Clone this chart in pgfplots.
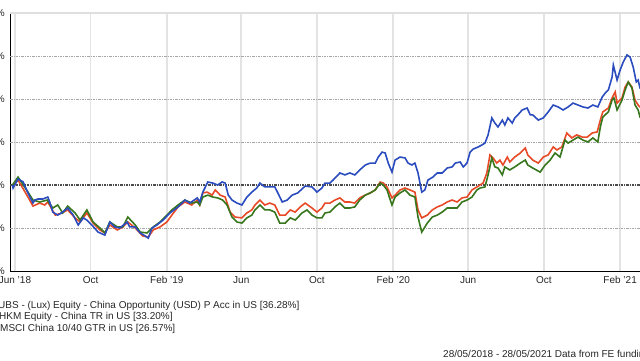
\documentclass[border=0pt]{standalone}
\usepackage{fontspec}
\setmainfont{Liberation Sans}
\usepackage{pgfplots}
\pgfplotsset{compat=1.18}
\definecolor{ubsblue}{HTML}{2B4CBE}
\definecolor{hkmred}{HTML}{E84A27}
\definecolor{msgreen}{HTML}{38761D}
\begin{document}
\begin{tikzpicture}
\begin{axis}[
  at={(0pt,0pt)}, anchor=south west,
  scale only axis, width=630pt, height=258pt,
  xmin=-8, xmax=1008, ymin=-40, ymax=80,
  axis x line*=bottom, axis y line*=left,
  axis line style={-, black, line width=1pt},
  xtick={0,122,245,365,487,610,731,853,976},
  xticklabels={Jun '18, Oct, Feb '19, Jun, Oct, Feb '20, Jun, Oct, Feb '21},
  ytick={-40,-20,0,20,40,60,80},
  yticklabel={\pgfmathprintnumber{\tick}\%},
  /pgf/number format/assume math mode=true,
  major tick length=0pt,
  xmajorgrids,
  x grid style={gray!22, line width=1.6pt},
  ticklabel style={font=\fontsize{10}{12}\selectfont, text=black!85},
  xticklabel style={anchor=base, inner sep=0pt, yshift=-12.5pt},
  yticklabel style={anchor=east, inner sep=0pt, xshift=-5pt},
]
\pgfplotsinvokeforeach{-20,20,40,60}{
  \draw[black!35, dash pattern=on 2.5pt off 1pt on 1pt off 1pt, line width=0.8pt] (axis cs:-8,#1) -- (axis cs:1008,#1);
}
\draw[black!70, dash pattern=on 2.5pt off 1pt on 1pt off 1pt, line width=1.1pt] (axis cs:-8,0) -- (axis cs:1008,0);
\addplot[hkmred, line width=1.6pt] coordinates {
(-4,-0.5) (5,2.3) (21,-5.6) (29,-9.8) (40,-8.4) (48,-9.3) (53,-7.9) (65,-14.0) (76,-13.0) (85,-11.6)
(97,-15.3) (105,-17.2) (116,-13.0) (126,-17.7) (137,-20.9) (145,-22.3) (153,-18.6) (165,-20.9) (174,-19.5)
(182,-17.2) (194,-20.0) (206,-23.7) (215,-24.2) (223,-20.9) (234,-19.5) (245,-17.2) (253,-14.0) (263,-10.2)
(274,-7.9) (285,-9.3) (294,-7.0) (298,-9.3) (303,-3.7) (310,-3.3) (318,-4.7) (323,-2.3) (331,-4.7) (339,-5.6)
(347,-12.6) (355,-14.9) (366,-15.3) (374,-13.0) (382,-11.6) (387,-9.3) (395,-7.0) (403,-9.3) (411,-8.4)
(419,-9.3) (427,-14.0) (436,-14.0) (444,-11.6) (452,-12.6) (460,-10.2) (468,-8.4) (479,-10.7) (487,-12.6)
(495,-10.7) (500,-8.4) (508,-8.4) (516,-7.0) (524,-6.0) (532,-7.9) (540,-7.9) (548,-8.4) (556,-6.0)
(565,-4.7) (573,-3.7) (581,-2.3) (589,1.4) (594,0.9) (600,-0.9) (608,-6.0) (613,-4.7) (621,-2.3) (629,-1.4)
(637,-2.3) (645,-3.3) (650,-11.6) (656,-15.3) (665,-14.0) (673,-11.6) (681,-10.2) (689,-9.3) (697,-7.9)
(705,-7.0) (713,-7.9) (721,-6.0) (729,-5.6) (737,-2.3) (745,-0.9) (750,0) (755,0.9) (761,5.6) (766,14.0)
(771,12.6) (777,10.2) (782,11.6) (787,9.3) (794,13.0) (798,10.7) (806,13.0) (815,14.9) (823,17.2) (827,14.0)
(835,11.6) (844,10.2) (852,13.0) (860,14.0) (868,17.7) (874,16.3) (882,17.7) (890,24.2) (898,21.9) (906,23.3)
(915,22.3) (923,22.3) (931,24.2) (939,24.7) (944,30.2) (948,34.0) (957,35.8) (963,40.5) (968,43.3) (971,38.1)
(979,40.5) (984,45.6) (989,47.9) (995,45.6) (1000,39.5) (1005,37.2) (1008,36.3) (1092,33.20)
};
\addplot[msgreen, line width=1.6pt] coordinates {
(-4,0) (5,3.7) (21,-3.3) (29,-7.0) (40,-7.9) (52,-7.0) (61,-10.7) (69,-9.3) (77,-13.0) (85,-9.8) (97,-13.0)
(105,-16.3) (116,-11.6) (126,-17.2) (137,-20.0) (145,-22.3) (153,-17.2) (165,-19.5) (174,-19.5) (182,-14.9)
(194,-18.6) (202,-21.9) (213,-22.3) (223,-19.5) (234,-17.2) (245,-14.0) (253,-11.6) (263,-9.3) (274,-7.0)
(285,-8.4) (294,-7.9) (298,-9.3) (303,-5.6) (311,-4.7) (319,-5.6) (327,-6.0) (335,-7.0) (342,-9.3) (350,-14.9)
(358,-17.2) (366,-17.7) (374,-15.3) (382,-14.0) (387,-11.6) (395,-9.3) (403,-11.6) (411,-11.6) (419,-12.6)
(427,-17.7) (436,-17.7) (444,-15.3) (452,-16.3) (463,-13.0) (471,-11.6) (479,-14.0) (487,-15.3) (495,-15.3)
(500,-13.0) (508,-12.6) (516,-10.2) (524,-8.4) (532,-10.7) (540,-10.7) (548,-10.2) (556,-7.0) (565,-4.7)
(573,-3.7) (581,-2.3) (589,0.9) (594,0) (600,-2.3) (608,-9.3) (613,-5.6) (621,-3.7) (629,-2.3) (637,-4.7)
(645,-5.6) (650,-14.9) (656,-21.9) (665,-17.7) (673,-14.9) (681,-14.0) (689,-12.6) (697,-10.7) (705,-10.7)
(713,-10.7) (721,-7.9) (729,-7.0) (737,-5.6) (745,-2.3) (750,-1.4) (758,-0.9) (763,4.7) (769,12.6) (774,8.4)
(779,7.9) (786,4.7) (790,8.4) (798,7.0) (806,8.4) (815,10.2) (823,11.6) (827,9.3) (835,7.9) (847,6.0) (855,9.3)
(863,11.6) (871,14.9) (879,13.0) (887,20.9) (892,19.5) (900,20.9) (908,22.3) (916,20.9) (924,20.0) (932,21.9)
(940,20.0) (944,27.0) (948,31.6) (957,34.0) (963,39.5) (966,40.5) (971,34.9) (979,39.5) (984,44.2) (989,47.9)
(995,45.1) (1000,37.2) (1005,34.9) (1008,31.6) (1092,26.57)
};
\addplot[ubsblue, line width=1.6pt] coordinates {
(-4,0) (-3,-1.4) (5,2.8) (13,1.5) (21,-3.7) (29,-8.4) (32,-7.0) (37,-6.5) (45,-6.5) (53,-5.6) (56,-7.9)
(61,-12.6) (69,-14.0) (77,-12.6) (85,-10.7) (94,-14.0) (102,-18.6) (110,-15.3) (116,-16.3) (124,-18.6)
(134,-21.9) (145,-23.3) (153,-17.2) (161,-19.5) (169,-20.0) (181,-17.2) (185,-19.5) (194,-19.5) (202,-22.3)
(210,-23.7) (215,-24.7) (221,-20.0) (229,-18.6) (239,-16.3) (250,-13.0) (263,-10.2) (274,-7.0) (282,-8.4)
(294,-6.0) (298,-7.9) (303,-3.3) (311,1.4) (319,0.9) (327,0) (334,1.4) (339,0.9) (344,-4.7) (350,-7.0)
(358,-8.4) (366,-9.3) (374,-5.6) (382,-3.3) (390,-1.4) (395,0.9) (403,-0.9) (411,-0.9) (419,-0.9) (424,-3.7)
(431,-7.9) (439,-7.0) (447,-4.7) (456,-3.7) (468,-0.5) (479,-0.9) (487,-3.3) (495,-1.4) (500,0.9) (508,0.9)
(513,2.3) (524,5.6) (532,4.7) (540,5.6) (548,4.7) (556,7.0) (565,9.3) (573,10.2) (581,10.2) (586,13.0)
(592,15.3) (597,14.9) (602,10.2) (608,6.0) (613,11.6) (621,13.0) (629,12.6) (634,10.2) (640,9.3) (645,10.2)
(650,5.6) (656,-3.3) (661,-2.3) (666,2.3) (674,3.7) (681,5.6) (689,5.6) (697,7.9) (705,8.4) (710,10.2)
(718,10.7) (723,8.4) (729,10.2) (734,15.3) (739,16.7) (747,17.7) (753,18.6) (758,19.5) (763,23.3) (769,31.2)
(774,28.8) (779,27.0) (786,30.2) (790,27.9) (795,31.2) (802,28.8) (806,31.2) (811,32.6) (818,34.9) (826,35.8)
(831,32.6) (835,32.6) (844,30.2) (852,31.2) (860,34.0) (868,37.2) (876,36.3) (884,34.9) (892,36.3) (900,38.1)
(908,37.2) (916,36.3) (924,35.8) (932,37.2) (940,36.3) (947,40.9) (952,42.8) (957,44.2) (963,50.2) (965,55.8)
(971,48.8) (976,53.5) (981,57.2) (987,60.5) (992,59.5) (997,54.9) (1002,47.9) (1005,48.8) (1008,45.1) (1092,36.28)
};
\end{axis}
\draw[gray!25, line width=2pt] (0pt,258pt) -- (630pt,258pt);
\begin{scope}[every node/.style={anchor=base west, inner sep=0pt, font=\fontsize{10}{12}\selectfont, text=black!85}]
\node at (-12pt,-37.5pt) {UBS - (Lux) Equity - China Opportunity (USD) P Acc in US [36.28\%]};
\node at (-11pt,-48.5pt) {HKM Equity - China TR in US [33.20\%]};
\node at (-10pt,-60pt) {MSCI China 10/40 GTR in US [26.57\%]};
\node at (433pt,-86.5pt) {28/05/2018 - 28/05/2021 Data from FE fundinfo2021};
\end{scope}
\pgfresetboundingbox
\path[use as bounding box] (-10pt,-89pt) rectangle (630pt,271pt);
\end{tikzpicture}
\end{document}
